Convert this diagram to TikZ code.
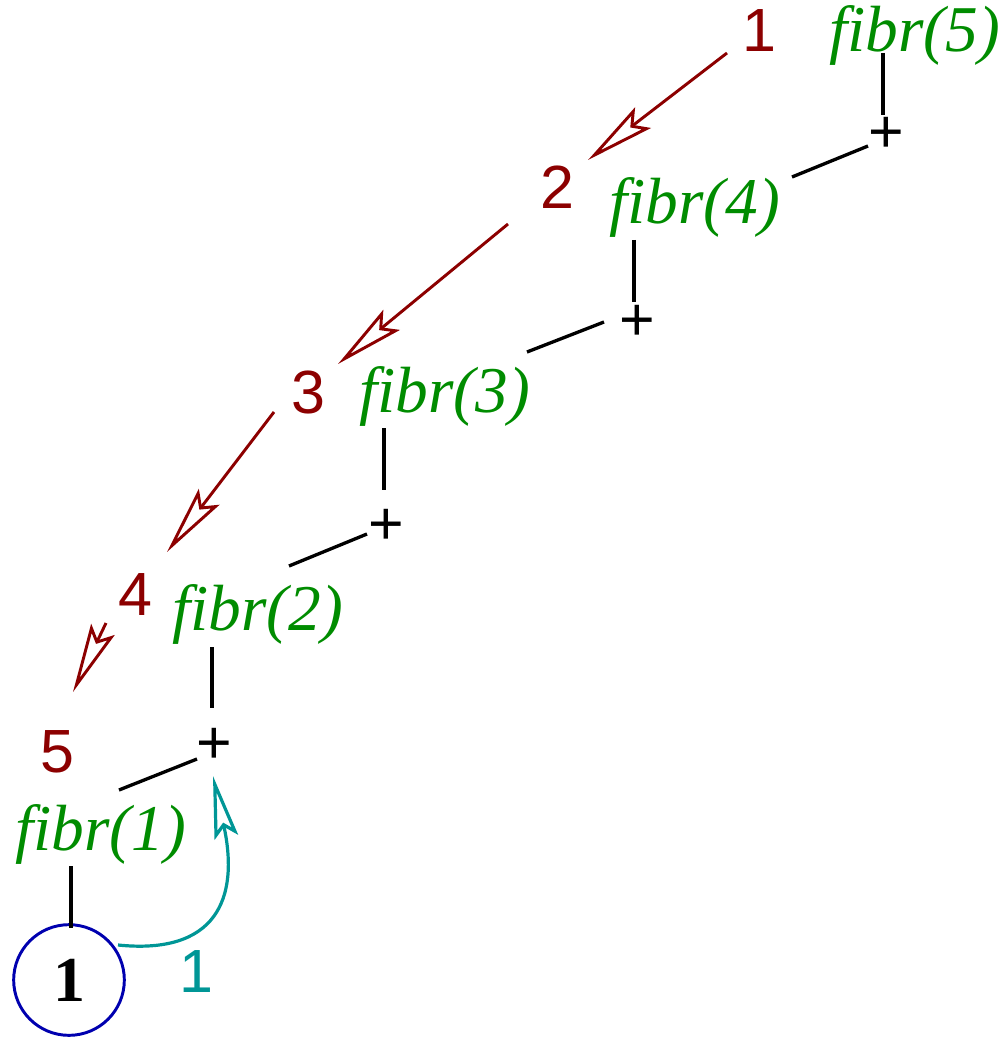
\documentclass[tikz,border=0pt]{standalone}
\usepackage{fontspec}
\setmainfont{Liberation Serif}
\newfontfamily\numfont{Liberation Sans}
\newfontfamily\fibfont{Liberation Serif}[Ligatures=NoCommon]
\usetikzlibrary{arrows.meta,calc}
\definecolor{dred}{RGB}{140,0,0}
\definecolor{fgreen}{RGB}{0,140,0}
\definecolor{teal1}{RGB}{0,150,150}
\definecolor{cblue}{RGB}{0,0,175}
\begin{document}
\begin{tikzpicture}[x=0.75pt,y=-0.75pt,
  num/.style={font=\numfont\fontsize{45.75}{50}\selectfont, text=dred, anchor=base, inner sep=0pt},
  fib/.style={font=\fibfont\fontsize{49}{54}\selectfont\itshape, text=fgreen, anchor=base west, inner sep=0pt},
  plus/.style={font=\numfont\fontsize{45.75}{50}\selectfont, anchor=base, inner sep=0pt},
  tree/.style={line width=2.5pt, black},
  call/.style={line width=2.2pt, dred, -{Stealth[open, length=52pt, width=19.5pt, inset=9pt]}},
  ret/.style={line width=2.4pt, teal1, -{Stealth[open, length=47pt, width=18pt, inset=8pt]}},
  leaf/.style={circle, draw=cblue, line width=2.2pt, minimum size=83pt, inner sep=0pt,
    font=\fontsize{48}{52}\selectfont\bfseries}
]
\useasboundingbox (0,0) rectangle (999,1037);

% red call numbers
\node[num] (n1) at (759,52) {1};
\node[num] (n2) at (557,209) {2};
\node[num] (n3) at (308,413) {3};
\node[num] (n4) at (135,615) {4};
\node[num] (n5) at (57,772) {5};

% fibr calls
\node[fib] (f5) at (829,52) {fibr(5)};
\node[fib] (f4) at (609,224) {fibr(4)};
\node[fib] (f3) at (359,412) {fibr(3)};
\node[fib] (f2) at (172,630) {fibr(2)};
\node[fib] (f1) at (15,850) {fibr(1)};

% plus signs
\node[plus] (p4) at (886,153) {+};
\node[plus] (p3) at (637,340) {+};
\node[plus] (p2) at (386,544) {+};
\node[plus] (p1) at (214,763) {+};

% leaf
\node[leaf] (c) at (69,980) {1};

% tree connectors
\draw[tree] ($(f5.base west)+(54,1)$) -- ($(p4.base)+(-3,-38)$);
\draw[tree] ($(p4.base)+(-18,-7)$) -- ($(f4.base west)+(183,-47)$);
\draw[tree] ($(f4.base west)+(25,16)$) -- ($(p3.base)+(-3,-38)$);
\draw[tree] ($(p3.base)+(-33,-18)$) -- ($(f3.base west)+(168,-60)$);
\draw[tree] ($(f3.base west)+(25,16)$) -- ($(p2.base)+(-2,-54)$);
\draw[tree] ($(p2.base)+(-19,-10)$) -- ($(f2.base west)+(117,-64)$);
\draw[tree] ($(f2.base west)+(40,17)$) -- ($(p1.base)+(-2,-55)$);
\draw[tree] ($(p1.base)+(-17,-4)$) -- ($(f1.base west)+(104,-60)$);
\draw[tree] ($(f1.base west)+(56,16)$) -- ($(c.center)+(2,-52)$);

% call arrows
\draw[call] ($(n1.base)+(-32,1)$) -- ($(n2.base)+(31,-49)$);
\draw[call] ($(n2.base)+(-49,15)$) -- ($(n3.base)+(30,-49)$);
\draw[call] ($(n3.base)+(-34,-1)$) -- ($(n4.base)+(32,-63)$);
\draw[call] ($(n4.base)+(-29,8)$) -- ($(n5.base)+(16,-80)$);

% return arrow
\draw[ret] ($(c.center)+(49,-35)$) .. controls ($(c.center)+(146,-25)$) and ($(p1.base)+(26,137)$) .. ($(p1.base)+(-1,13)$);
\node[num, text=teal1] (r1) at (196,992) {1};
\end{tikzpicture}
\end{document}
